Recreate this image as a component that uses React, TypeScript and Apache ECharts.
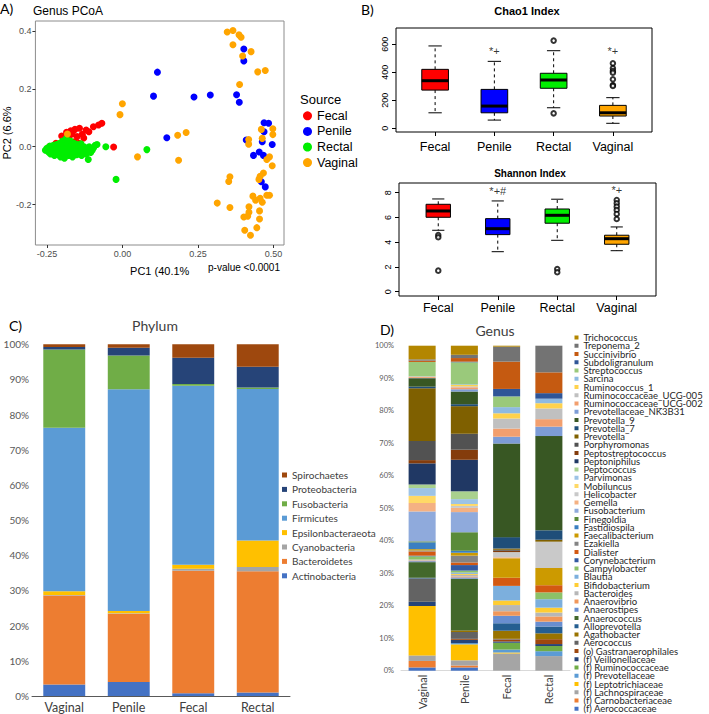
import React, { useEffect, useRef } from "react";
import * as echarts from "echarts";

// ---------- Panel A: PCoA ----------
const groups = ["Fecal", "Penile", "Rectal", "Vaginal"];
const groupColors = ["#FF0000", "#0000FF", "#00EE00", "#FFA500"];

const pcoaFecal = [
  [-0.029, -0.001], [-0.068, 0.081], [-0.079, 0.075], [-0.096, 0.069], [-0.111, 0.052],
  [-0.12, 0.058], [-0.133, 0.043], [-0.142, 0.064], [-0.15, 0.035], [-0.157, 0.06],
  [-0.166, 0.044], [-0.171, 0.055], [-0.177, 0.035], [-0.188, 0.023], [-0.201, 0.037],
  [-0.16, 0.017], [-0.144, 0.012], [-0.22, 0.012], [-0.231, 0.002], [-0.242, 0.0],
  [-0.185, 0.05], [-0.128, 0.03],
];
const pcoaPenile = [
  [0.116, 0.258], [0.103, 0.175], [0.237, 0.172], [0.291, 0.179], [0.402, 0.338],
  [0.402, 0.297], [0.378, 0.18], [0.387, 0.154], [0.147, 0.031], [0.469, 0.083],
  [0.484, 0.081], [0.469, 0.052], [0.41, 0.023], [0.496, 0.008], [0.434, -0.03],
  [0.453, -0.018], [0.467, -0.03], [0.46, -0.121], [0.473, -0.139], [0.463, 0.017],
];
const pcoaRectal = [
  [-0.255, -0.012], [-0.25, -0.005], [-0.245, -0.018], [-0.24, 0.002], [-0.238, -0.025],
  [-0.235, -0.01], [-0.23, -0.02], [-0.228, 0.005], [-0.225, -0.03], [-0.222, -0.012],
  [-0.22, -0.022], [-0.218, 0.008], [-0.215, -0.005], [-0.212, -0.028], [-0.21, -0.015],
  [-0.208, 0.012], [-0.205, -0.035], [-0.203, 0.0], [-0.2, -0.02], [-0.198, 0.02],
  [-0.196, -0.01], [-0.194, 0.005], [-0.192, -0.04], [-0.19, -0.025], [-0.188, 0.015],
  [-0.186, 0.028], [-0.184, -0.005], [-0.182, -0.018], [-0.18, 0.01], [-0.178, -0.03],
  [-0.176, 0.0], [-0.174, -0.012], [-0.172, 0.02], [-0.17, -0.022], [-0.168, 0.005],
  [-0.165, -0.035], [-0.162, -0.008], [-0.16, 0.012], [-0.157, -0.02], [-0.155, 0.0],
  [-0.152, -0.028], [-0.15, 0.008], [-0.147, -0.012], [-0.145, -0.025], [-0.142, 0.003],
  [-0.14, -0.015], [-0.137, 0.01], [-0.135, -0.03], [-0.132, -0.005], [-0.13, -0.018],
  [-0.127, 0.0], [-0.125, -0.01], [-0.12, -0.025], [-0.115, -0.008], [-0.11, 0.0],
  [-0.105, -0.02], [-0.1, -0.012], [-0.095, -0.003], [-0.09, 0.005], [-0.084, 0.008],
  [-0.055, 0.0], [-0.113, -0.044], [-0.021, -0.113], [0.081, -0.01],
];
const pcoaVaginal = [
  [0.347, 0.397], [0.366, 0.402], [0.386, 0.387], [0.393, 0.379], [0.366, 0.353],
  [0.426, 0.329], [0.398, 0.314], [0.448, 0.259], [0.473, 0.264], [0.388, 0.215],
  [0.0, 0.149], [-0.008, 0.111], [0.46, 0.06], [0.498, 0.062], [0.498, 0.042],
  [0.463, 0.029], [0.418, 0.025], [0.418, 0.009], [0.183, 0.04], [0.211, 0.049],
  [-0.182, 0.044], [0.05, -0.035], [0.186, -0.047], [0.487, -0.035], [0.478, -0.044],
  [0.496, -0.066], [0.467, -0.091], [0.456, -0.102], [0.452, -0.113], [0.356, -0.104],
  [0.352, -0.12], [0.487, -0.168], [0.432, -0.171], [0.441, -0.185], [0.456, -0.178],
  [0.463, -0.192], [0.314, -0.195], [0.356, -0.21], [0.419, -0.208], [0.419, -0.227],
  [0.454, -0.222], [0.402, -0.243], [0.415, -0.24], [0.454, -0.25], [0.405, -0.289],
  [0.445, -0.28], [0.424, -0.306], [0.478, -0.168],
];
const pcoaXTicks = [-0.25, 0, 0.25, 0.5];
const pcoaYTicks = [-0.2, 0, 0.2, 0.4];

// ---------- Panel B: alpha diversity boxplots [min, q1, median, q3, max] ----------
const boxPositions = [1, 2, 3, 4];
const chaoStats = [
  [111, 273, 340, 421, 588],
  [59, 111, 159, 278, 478],
  [147, 286, 345, 393, 554],
  [36, 88, 111, 164, 219],
];
const chaoOutliers = [
  [3, 626], [3, 107],
  [4, 464], [4, 428], [4, 409], [4, 397], [4, 350], [4, 309], [4, 302],
];
const chaoMarks: [number, number, string][] = [[2, 552, "*+"], [4, 552, "*+"]];
const chaoTicks = [0, 200, 400, 600];

const shannonStats = [
  [4.96, 6.01, 6.52, 7.06, 7.49],
  [3.23, 4.61, 5.09, 5.9, 7.33],
  [4.15, 5.53, 6.17, 6.68, 7.47],
  [3.31, 3.83, 4.28, 4.56, 5.23],
];
const shannonOutliers = [
  [1, 4.58], [1, 4.4], [1, 1.7],
  [3, 1.83], [3, 1.57],
  [4, 7.41], [4, 7.14], [4, 6.87], [4, 6.6], [4, 6.28], [4, 5.87],
];
const shannonMarks: [number, number, string][] = [[2, 8.16, "*+#"], [4, 8.2, "*+"]];
const shannonTicks = [0, 2, 4, 6, 8];

// ---------- Panel C: Phylum (% relative abundance) ----------
const barCategories = ["Vaginal", "Penile", "Fecal", "Rectal"];
const phylumNames = [
  "Actinobacteria", "Bacteroidetes", "Cyanobacteria", "Epsilonbacteraeota",
  "Firmicutes", "Fusobacteria", "Proteobacteria", "Spirochaetes",
];
const phylumVaginal = [3.3, 25.3, 0.1, 1.1, 46.5, 22.2, 0.7, 0.8];
const phylumPenile = [4.0, 19.4, 0.1, 0.7, 63.0, 9.6, 2.2, 1.0];
const phylumFecal = [0.8, 34.8, 0.6, 1.1, 50.9, 0.5, 7.5, 3.8];
const phylumRectal = [1.0, 34.5, 1.2, 7.5, 43.1, 0.4, 5.9, 6.4];
const phylumColors = ["#4472C4", "#ED7D31", "#A5A5A5", "#FFC000", "#5B9BD5", "#70AD47", "#264478", "#9E480E"];

// ---------- Panel D: Genus (% relative abundance) ----------
const genusNames = [
  "(f) Aerococcaceae", "(f) Carnobacteriaceae", "(f) Lachnospiraceae", "(f) Leptotrichiaceae",
  "(f) Prevotellaceae", "(f) Ruminococcaceae", "(f) Veillonellaceae", "(o) Gastranaerophilales",
  "Aerococcus", "Agathobacter", "Alloprevotella", "Anaerococcus", "Anaerostipes", "Anaerovibrio",
  "Bacteroides", "Bifidobacterium", "Blautia", "Campylobacter", "Corynebacterium", "Dialister",
  "Ezakiella", "Faecalibacterium", "Fastidiospila", "Finegoldia", "Fusobacterium", "Gemella",
  "Helicobacter", "Mobiluncus", "Parvimonas", "Peptococcus", "Peptoniphilus", "Peptostreptococcus",
  "Porphyromonas", "Prevotella", "Prevotella_7", "Prevotella_9", "Prevotellaceae_NK3B31",
  "Ruminococcaceae_UCG-002", "Ruminococcaceae_UCG-005", "Ruminococcus_1", "Sarcina",
  "Streptococcus", "Subdoligranulum", "Succinivibrio", "Treponema_2", "Trichococcus",
];
const genusVaginal = [
  1.0, 2.0, 1.7, 15.2, 0, 0, 1.3, 0, 7.2, 0, 0.2, 4.8, 0.3, 0.2, 0.3, 0, 0, 1.0, 0.2, 1.3,
  0.3, 0.4, 2.1, 0.3, 9.2, 2.6, 0, 2.2, 2.4, 1.1, 6.5, 1.0, 5.9, 16.2, 0.5, 2.6, 0.1, 0.3,
  0.2, 0, 0, 4.4, 0, 0.4, 0.4, 4.2,
];
const genusPenile = [
  1.0, 0.6, 1.6, 4.9, 0.4, 0, 1.0, 0.3, 2.1, 0.5, 0, 15.9, 0.4, 0.3, 0.5, 0.3, 0.4, 0.6, 1.7, 0.8,
  2.1, 0.9, 0.6, 5.7, 6.2, 1.3, 0.6, 0.6, 1.5, 2.4, 9.7, 3.1, 4.9, 8.5, 0.6, 3.9, 0.7, 0.6,
  0.3, 0.4, 0.2, 6.8, 0.2, 1.1, 1.0, 2.8,
];
const genusFecal = [
  0, 0, 5.3, 0.3, 0.9, 2.1, 0.4, 0.6, 0.2, 2.5, 2.3, 0, 2.3, 1.4, 1.9, 1.4, 4.5, 0, 0, 2.5,
  0, 6.0, 0, 0, 0, 0.3, 1.6, 0, 0, 0, 0, 0.4, 0.3, 0.4, 3.5, 28.8, 2.1, 2.5,
  3.1, 1.6, 1.9, 3.3, 2.3, 8.4, 4.6, 0.3,
];
const genusRectal = [
  0, 0, 4.5, 0, 1.5, 1.6, 0.6, 1.5, 0, 1.8, 2.1, 0, 1.5, 1.6, 1.2, 1.5, 2.6, 2.1, 0, 2.2,
  0, 5.3, 0, 0, 0, 0, 8.1, 0, 0, 0, 0, 0, 0, 0.6, 2.9, 29.0, 2.9, 2.3,
  3.3, 1.6, 1.4, 0, 1.7, 6.4, 8.2, 0,
];
const genusColors = [
  "#4472C4", "#ED7D31", "#A5A5A5", "#FFC000", "#5B9BD5", "#70AD47", "#264478", "#9E480E",
  "#636363", "#997300", "#255E91", "#43682B", "#698ED0", "#F1975A", "#B7B7B7", "#FFCD33",
  "#7CAFDD", "#8CC168", "#335AA1", "#D35912", "#848484", "#CC9A00", "#3A7FC1", "#5A8B39",
  "#8FAADC", "#F4B183", "#C9C9C9", "#FFD966", "#9DC3E6", "#A9D18E", "#203864", "#843C0C",
  "#525252", "#7F6000", "#1F4E79", "#385723", "#7D9CD6", "#F29F6E", "#C0C0C0", "#FFD24D",
  "#8EBAE2", "#9AC97B", "#2F5597", "#C55A11", "#737373", "#B38600",
];

const RF = "'Liberation Sans', Arial, sans-serif";
const XF = "Lato, Calibri, sans-serif";

function boxRender(boxW: number) {
  return (params: any, api: any) => {
    const x = api.value(0);
    const lo = api.coord([x, api.value(1)]);
    const q1 = api.coord([x, api.value(2)]);
    const med = api.coord([x, api.value(3)]);
    const q3 = api.coord([x, api.value(4)]);
    const hi = api.coord([x, api.value(5)]);
    const w = api.size([boxW, 0])[0];
    const cx = med[0];
    const cap = w / 4;
    const dash = { stroke: "#000", lineWidth: 1, lineDash: [3, 3] };
    const solid = { stroke: "#000", lineWidth: 1 };
    return {
      type: "group",
      children: [
        { type: "line", shape: { x1: cx, y1: q3[1], x2: cx, y2: hi[1] }, style: dash },
        { type: "line", shape: { x1: cx, y1: q1[1], x2: cx, y2: lo[1] }, style: dash },
        { type: "line", shape: { x1: cx - cap, y1: hi[1], x2: cx + cap, y2: hi[1] }, style: solid },
        { type: "line", shape: { x1: cx - cap, y1: lo[1], x2: cx + cap, y2: lo[1] }, style: solid },
        {
          type: "rect",
          shape: { x: cx - w / 2, y: q3[1], width: w, height: q1[1] - q3[1] },
          style: { fill: groupColors[params.dataIndex], stroke: "#000", lineWidth: 1 },
        },
        { type: "line", shape: { x1: cx - w / 2, y1: med[1], x2: cx + w / 2, y2: med[1] }, style: { stroke: "#000", lineWidth: 3 } },
      ],
    };
  };
}

function boxAxes(idx: number, min: number, max: number, ticks: number[], labelMargin: number) {
  const x = {
    gridIndex: idx, type: "value", min: 0.34, max: 4.66,
    axisLine: { show: false, onZero: false }, splitLine: { show: false },
    axisTick: { show: true, customValues: boxPositions, length: 4, lineStyle: { color: "#000" } },
    axisLabel: {
      customValues: boxPositions, formatter: (v: number) => groups[Math.round(v) - 1],
      fontSize: 12.5, color: "#000", margin: labelMargin, fontFamily: RF,
    },
  };
  const y = {
    gridIndex: idx, type: "value", min, max,
    axisLine: { show: false, onZero: false }, splitLine: { show: false },
    axisTick: { show: true, customValues: ticks, length: 4, lineStyle: { color: "#000" } },
    axisLabel: { customValues: ticks, rotate: 90, fontSize: 9, color: "#000", margin: 7, fontFamily: RF },
  };
  return [x, y];
}

function buildOption() {
  const [chaoX, chaoY] = boxAxes(1, -26, 716, chaoTicks, 8);
  const [shanX, shanY] = boxAxes(2, -0.35, 8.78, shannonTicks, 5);

  const pcoaSeries = [pcoaFecal, pcoaPenile, pcoaRectal, pcoaVaginal].map((d, i) => ({
    name: groups[i], type: "scatter", xAxisIndex: 0, yAxisIndex: 0, data: d,
    symbol: "circle", symbolSize: 7, itemStyle: { color: groupColors[i], opacity: 1 },
  }));

  const boxSeriesFor = (idx: number, stats: number[][], outl: number[][], marks: [number, number, string][], bw: number) => [
    {
      type: "custom", xAxisIndex: idx, yAxisIndex: idx,
      data: stats.map((s, i) => [boxPositions[i], ...s]),
      encode: { x: 0, y: [1, 2, 3, 4, 5] },
      renderItem: boxRender(bw), z: 3,
    },
    {
      type: "scatter", xAxisIndex: idx, yAxisIndex: idx, data: outl,
      symbol: "emptyCircle", symbolSize: 4.5, itemStyle: { color: "#000", borderWidth: 1 }, z: 4,
    },
    {
      type: "scatter", xAxisIndex: idx, yAxisIndex: idx,
      data: marks.map((m) => ({ name: m[2], value: [m[0], m[1]] })),
      symbol: "circle", symbolSize: 1, itemStyle: { color: "transparent" },
      label: { show: true, position: "inside", formatter: "{b}", fontSize: 11, color: "#000", fontFamily: RF },
      z: 5,
    },
  ];

  const phylumSeries = phylumNames.map((n, j) => ({
    name: n, type: "bar", stack: "phylum", xAxisIndex: 3, yAxisIndex: 3, barWidth: "65%",
    data: [phylumVaginal[j], phylumPenile[j], phylumFecal[j], phylumRectal[j]],
    itemStyle: { color: phylumColors[j] },
  }));
  const genusSeries = genusNames.map((n, j) => ({
    name: n, type: "bar", stack: "genus", xAxisIndex: 4, yAxisIndex: 4, barWidth: "64%",
    data: [genusVaginal[j], genusPenile[j], genusFecal[j], genusRectal[j]],
    itemStyle: { color: genusColors[j] },
  }));

  const txt = (text: string, x: number, y: number, size: number, opts: any = {}) => ({
    type: "text", x, y,
    style: {
      text, fontSize: size, fontFamily: opts.family || RF, fontWeight: opts.weight || "normal",
      fill: opts.fill || "#000", align: opts.align || "left", verticalAlign: "middle",
    },
  });

  return {
    animation: false,
    backgroundColor: "#fff",
    grid: [
      { left: 33, top: 21, width: 251, height: 224, show: true, borderColor: "#8C8C8C", borderWidth: 1, backgroundColor: "transparent" },
      { left: 396, top: 28, width: 256, height: 104, show: true, borderColor: "#000", borderWidth: 1, backgroundColor: "transparent" },
      { left: 399, top: 183, width: 257, height: 113, show: true, borderColor: "#000", borderWidth: 1, backgroundColor: "transparent" },
      { left: 32, top: 344.3, width: 258, height: 353.4 },
      { left: 401, top: 345.7, width: 169, height: 325 },
    ],
    xAxis: [
      {
        gridIndex: 0, type: "value", min: -0.288, max: 0.535,
        axisLine: { show: false, onZero: false }, splitLine: { show: false },
        axisTick: { show: true, customValues: pcoaXTicks, length: 3, lineStyle: { color: "#333" } },
        axisLabel: { customValues: pcoaXTicks, formatter: (v: number) => v.toFixed(2), fontSize: 9, color: "#4D4D4D", margin: 4, fontFamily: RF },
        name: "PC1 (40.1%", nameLocation: "middle", nameGap: 20,
        nameTextStyle: { fontSize: 11, color: "#000", fontFamily: RF },
      },
      chaoX, shanX,
      {
        gridIndex: 3, type: "category", data: barCategories,
        axisLine: { lineStyle: { color: "#595959", width: 1 } }, axisTick: { show: false },
        axisLabel: { fontSize: 12.5, color: "#404040", margin: 5, fontFamily: XF },
      },
      {
        gridIndex: 4, type: "category", data: barCategories,
        axisLine: { lineStyle: { color: "#D9D9D9", width: 1 } }, axisTick: { show: false },
        axisLabel: { fontSize: 11, color: "#404040", margin: 4, rotate: 90, fontFamily: XF },
      },
    ],
    yAxis: [
      {
        gridIndex: 0, type: "value", min: -0.34, max: 0.435,
        axisLine: { show: false, onZero: false }, splitLine: { show: false },
        axisTick: { show: true, customValues: pcoaYTicks, length: 3, lineStyle: { color: "#333" } },
        axisLabel: { customValues: pcoaYTicks, formatter: (v: number) => v.toFixed(1), fontSize: 9, color: "#4D4D4D", margin: 4, fontFamily: RF },
        name: "PC2 (6.6%", nameLocation: "middle", nameGap: 22, nameRotate: 90,
        nameTextStyle: { fontSize: 11, color: "#000", fontFamily: RF },
      },
      chaoY, shanY,
      {
        gridIndex: 3, type: "value", min: 0, max: 100, interval: 10,
        axisLine: { show: false, onZero: false }, axisTick: { show: false }, splitLine: { show: false },
        axisLabel: { formatter: "{value}%", fontSize: 10, color: "#595959", margin: 3, fontFamily: XF },
      },
      {
        gridIndex: 4, type: "value", min: 0, max: 100, interval: 10,
        axisLine: { show: false, onZero: false }, axisTick: { show: false }, splitLine: { show: false },
        axisLabel: { formatter: "{value}%", fontSize: 7.5, color: "#595959", margin: 7, fontFamily: XF },
      },
    ],
    legend: [
      {
        data: groups, orient: "vertical", left: 303, top: 108, padding: 0, itemGap: 0,
        itemWidth: 9, itemHeight: 9, icon: "circle", selectedMode: false,
        textStyle: { fontSize: 12.5, lineHeight: 15.6, color: "#000", fontFamily: RF },
      },
      {
        data: [...phylumNames].reverse(), orient: "vertical", left: 282, top: 467.8, padding: 0, itemGap: 0,
        itemWidth: 5, itemHeight: 5, icon: "rect", selectedMode: false,
        textStyle: { fontSize: 10, lineHeight: 14.4, color: "#404040", fontFamily: XF },
      },
      {
        data: [...genusNames].reverse(), orient: "vertical", left: 574.5, top: 332.5, padding: 0, itemGap: -1.75,
        itemWidth: 4, itemHeight: 4, icon: "rect", selectedMode: false,
        textStyle: { fontSize: 9.5, lineHeight: 8.25, color: "#262626", fontFamily: XF },
      },
    ],
    graphic: [
      txt("A)", 0, 8, 14, { family: XF }),
      txt("Genus PCoA", 33, 11, 12),
      txt("p-value <0.0001", 280, 267, 10, { align: "right" }),
      txt("Source", 300, 99, 13),
      txt("B)", 361, 9, 14, { family: XF }),
      txt("Chao1 Index", 527, 11, 11, { align: "center", weight: "bold" }),
      txt("Shannon Index", 530, 173, 10, { align: "center", weight: "bold" }),
      txt("C)", 9, 325, 14, { family: XF }),
      txt("Phylum", 155, 325, 14, { align: "center", family: XF, fill: "#404040" }),
      txt("D)", 380, 329, 14, { family: XF }),
      txt("Genus", 495, 330, 14, { align: "center", family: XF, fill: "#404040" }),
    ],
    series: [
      ...pcoaSeries,
      ...boxSeriesFor(1, chaoStats, chaoOutliers, chaoMarks, 0.45),
      ...boxSeriesFor(2, shannonStats, shannonOutliers, shannonMarks, 0.41),
      ...phylumSeries,
      ...genusSeries,
    ],
  };
}

export default function App() {
  const ref = useRef<HTMLDivElement>(null);
  useEffect(() => {
    if (!ref.current) return;
    const chart = echarts.init(ref.current, null, { renderer: "svg" });
    chart.setOption(buildOption() as any);
    return () => chart.dispose();
  }, []);
  return (
    <div
      ref={ref}
      style={{ position: "absolute", left: 0, top: 0, width: 709, height: 714, background: "#fff" }}
    />
  );
}
